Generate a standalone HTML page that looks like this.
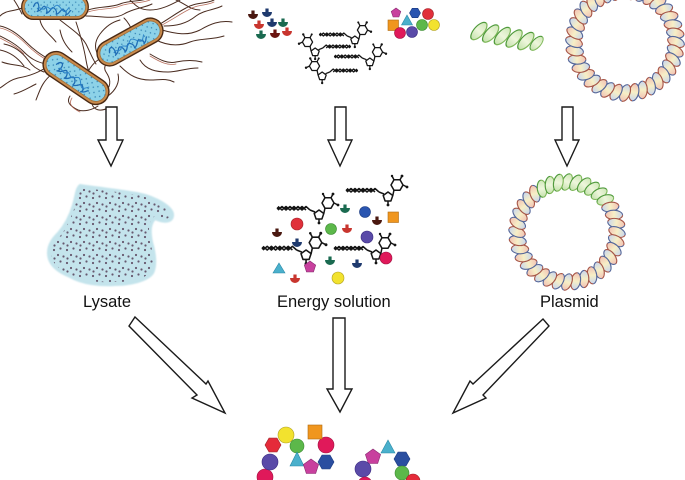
<!DOCTYPE html>
<html><head><meta charset="utf-8"><style>
html,body{margin:0;padding:0;background:#fff;}
svg{display:block;}
text{font-family:"Liberation Sans",Arial,sans-serif;}
</style></head><body>
<svg width="685" height="480" viewBox="0 0 685 480" xmlns="http://www.w3.org/2000/svg" xmlns:xlink="http://www.w3.org/1999/xlink">
<defs>
  <linearGradient id="gv1" x1="0" x2="0" y1="0" y2="1">
    <stop offset="0" stop-color="#f2c2b4"/>
    <stop offset="0.5" stop-color="#f7efc6"/>
    <stop offset="1" stop-color="#c8d6ee"/>
  </linearGradient>
  <linearGradient id="gv2" x1="0" x2="0" y1="0" y2="1">
    <stop offset="0" stop-color="#c8d6ee"/>
    <stop offset="0.5" stop-color="#f7efc6"/>
    <stop offset="1" stop-color="#f2c2b4"/>
  </linearGradient>
  <linearGradient id="gvg" x1="0" x2="0" y1="0" y2="1">
    <stop offset="0" stop-color="#cfe8b8"/>
    <stop offset="0.5" stop-color="#eef6dc"/>
    <stop offset="1" stop-color="#c4e2ac"/>
  </linearGradient>
  <g id="lA">
    <ellipse rx="4.7" ry="8.6" fill="url(#gv1)"/>
    <path d="M0 -8.6 A4.7 8.6 0 0 0 0 8.6" fill="none" stroke="#a65648" stroke-width="1.1"/>
    <path d="M0 -8.6 A4.7 8.6 0 0 1 0 8.6" fill="none" stroke="#55679a" stroke-width="1.1"/>
  </g>
  <g id="lB">
    <ellipse rx="4.7" ry="8.6" fill="url(#gv2)"/>
    <path d="M0 -8.6 A4.7 8.6 0 0 0 0 8.6" fill="none" stroke="#55679a" stroke-width="1.1"/>
    <path d="M0 -8.6 A4.7 8.6 0 0 1 0 8.6" fill="none" stroke="#a65648" stroke-width="1.1"/>
  </g>
  <g id="lG">
    <ellipse rx="4.7" ry="8.6" fill="url(#gvg)"/>
    <path d="M0 -8.6 A4.7 8.6 0 0 0 0 8.6" fill="none" stroke="#4f9a3c" stroke-width="1.1"/>
    <path d="M0 -8.6 A4.7 8.6 0 0 1 0 8.6" fill="none" stroke="#7fb85a" stroke-width="1.1"/>
  </g>
  <g id="mA"><use href="#lA" xlink:href="#lA" transform="translate(0,-50) rotate(22)"/></g>
  <g id="mB"><use href="#lB" xlink:href="#lB" transform="translate(0,-50) rotate(22)"/></g>
  <g id="mG"><use href="#lG" xlink:href="#lG" transform="translate(0,-50) rotate(22)"/></g>
  <g id="mol">
    <g stroke="#151515" stroke-width="1.5" fill="none" stroke-linejoin="round">
      <polyline points="0,0 4,-3.5 8,0 12,-3.5 16,0 20,-3.5 24,0 28,-3.5 32,0"/>
      <polyline points="0,-3.5 4,0 8,-3.5 12,0 16,-3.5 20,0 24,-3.5 28,0"/>
      <path d="M32 0 L37 2"/>
      <polygon points="41,0 45.8,3.5 43.9,9 38.1,9 36.2,3.5"/>
      <path d="M45.8 3.5 L47 -2"/>
      <polygon points="56,-7 53,-12.2 47,-12.2 44,-7 47,-1.8 53,-1.8"/>
      <path d="M53 -12.2 L55 -16 M56 -7 L60 -5 M41 9 L41 13 M47 -12.2 L45 -16"/>
    </g>
    <g fill="#151515">
      <circle cx="55" cy="-16" r="1.4"/><circle cx="60" cy="-5" r="1.4"/><circle cx="41" cy="13" r="1.4"/><circle cx="45" cy="-16" r="1.2"/>
      <circle cx="0" cy="-1.7" r="1.3"/><circle cx="8" cy="-1.7" r="1.3"/><circle cx="16" cy="-1.7" r="1.3"/><circle cx="24" cy="-1.7" r="1.3"/>
    </g>
  </g>
  <g id="pac"><path d="M-5 -1 A5 5 0 0 0 5 -1 L1.6 -1 L1.6 -4.5 L-1.6 -4.5 L-1.6 -1 Z"/></g>
  <pattern id="dots" width="13" height="13" patternUnits="userSpaceOnUse">
    <g fill="#66586e">
      <circle cx="2" cy="3" r="1.1"/><circle cx="8.5" cy="1.5" r="1.1"/><circle cx="6" cy="8" r="1.1"/>
      <circle cx="11.5" cy="9.5" r="1.1"/><circle cx="2.5" cy="11.5" r="1.1"/>
    </g>
  </pattern>
  <pattern id="bdots" width="7" height="7" patternUnits="userSpaceOnUse">
    <circle cx="2" cy="2" r="0.7" fill="#2f7fb0"/><circle cx="5.5" cy="5" r="0.7" fill="#2f7fb0"/>
  </pattern>
  <g id="bact">
    <rect x="-37" y="-13" width="74" height="26" rx="13" fill="#c98a4c" stroke="#4a2a14" stroke-width="1.4"/>
    <rect x="-34" y="-10" width="68" height="20" rx="10" fill="#8dd2e8" stroke="#a0703a" stroke-width="0.8"/>
    <rect x="-34" y="-10" width="68" height="20" rx="10" fill="url(#bdots)"/>
    <path d="M-24 0 c2 -6 6 -6 6 0 s-4 5 0 4 s5 -8 8 -3 s-2 7 2 5 s4 -8 8 -4 s-1 7 3 5 s4 -7 8 -3 s-2 6 2 4 s3 -5 5 -4" fill="none" stroke="#1f6db5" stroke-width="1.3"/>
    <path d="M-20 2 c3 -4 6 3 9 -1 s5 4 9 0 s5 -4 9 1 s5 3 9 -2" fill="none" stroke="#2a82c8" stroke-width="1"/>
  </g>
  <filter id="soft"><feGaussianBlur stdDeviation="0.8"/></filter>
</defs>

<rect width="685" height="480" fill="#fff"/>

<!-- Flagella -->
<g fill="none" stroke="#4a2c20" stroke-width="1" stroke-linecap="round">
  <path d="M22 8 C12 12 6 10 0 16"/>
  <path d="M0 26 C10 28 18 34 26 42 C34 50 40 54 50 60"/>
  <path d="M0 36 C8 40 16 44 24 52 C30 58 36 62 46 64"/>
  <path d="M2 62 C12 66 22 64 30 70"/>
  <path d="M48 66 C40 72 30 76 18 78 C10 80 6 84 0 88"/>
  <path d="M52 74 C42 82 40 90 36 100"/>
  <path d="M36 84 C28 88 22 92 14 94"/>
  <path d="M70 96 C66 102 70 106 78 110 C84 112 92 110 98 106"/>
  <path d="M92 104 C94 110 100 112 108 108"/>
  <path d="M106 92 C112 84 110 78 106 72 C102 66 108 62 112 58"/>
  <path d="M108 96 C116 90 120 82 118 74"/>
  <path d="M88 10 C100 6 110 8 120 4 C130 0 140 2 150 -2"/>
  <path d="M86 16 C100 16 114 20 124 14 C134 8 144 8 152 4"/>
  <path d="M60 20 C70 28 80 34 86 44 C90 52 92 58 96 64"/>
  <path d="M40 20 C42 30 50 34 56 42"/>
  <path d="M76 22 C80 34 84 48 86 60 C87 66 88 70 90 74"/>
  <path d="M100 58 C94 50 94 42 100 34 C106 26 112 22 120 20"/>
  <path d="M160 24 C170 18 178 12 186 8 C196 2 206 4 214 0"/>
  <path d="M162 30 C176 34 188 36 200 30 C210 24 220 20 232 22"/>
  <path d="M164 26 C176 26 186 24 196 16 C204 10 214 10 222 6"/>
  <path d="M150 54 C160 60 168 64 176 62 C186 60 194 60 202 62"/>
  <path d="M140 60 C146 70 156 72 168 72 C178 72 186 68 198 68"/>
  <path d="M120 66 C130 76 138 80 150 80 C160 80 166 78 174 82"/>
  <path d="M98 60 C92 64 88 70 84 80"/>
  <path d="M130 0 C136 6 140 10 150 10 C162 10 172 4 180 0"/>
  <path d="M176 0 C186 4 190 10 200 10"/>
  <path d="M0 50 C10 52 18 58 24 66"/>
  <path d="M14 0 C18 6 20 10 22 14"/>
  <path d="M124 18 C130 24 134 32 132 40"/>
  <path d="M4 44 C14 46 22 52 28 60 C32 66 38 70 44 72"/>
  <path d="M60 30 C62 40 66 46 72 52"/>
  <path d="M156 40 C168 46 180 46 190 42 C200 38 212 40 224 36"/>
</g>
<g fill="none" stroke="#a8503a" stroke-width="0.8" stroke-linecap="round" opacity="0.8">
  <path d="M0 28 C10 30 18 36 26 44 C34 52 40 56 50 62"/>
  <path d="M88 12 C100 8 110 10 120 6 C130 2 140 4 150 0"/>
  <path d="M160 26 C172 20 180 14 188 10 C198 4 206 6 214 2"/>
  <path d="M72 98 C68 104 72 108 80 112"/>
  <path d="M150 56 C160 62 168 66 176 64"/>
  <path d="M0 38 C8 42 16 46 24 54"/>
</g>

<!-- Bacteria -->
<use href="#bact" xlink:href="#bact" transform="translate(55,7) scale(0.9,0.95)"/>
<use href="#bact" xlink:href="#bact" transform="translate(76,78) rotate(34)"/>
<use href="#bact" xlink:href="#bact" transform="translate(130,42) rotate(-29) scale(0.97,0.97)"/>

<!-- Top middle: nucleotides -->
<use href="#pac" xlink:href="#pac" x="253" y="15" fill="#4a1810"/>
<use href="#pac" xlink:href="#pac" x="267" y="13" fill="#1f3a6e"/>
<use href="#pac" xlink:href="#pac" x="259" y="25" fill="#c8352e"/>
<use href="#pac" xlink:href="#pac" x="272" y="23" fill="#1f3a6e"/>
<use href="#pac" xlink:href="#pac" x="283" y="23" fill="#1a6a50"/>
<use href="#pac" xlink:href="#pac" x="287" y="32" fill="#c8352e"/>
<use href="#pac" xlink:href="#pac" x="261" y="35" fill="#1a6a50"/>
<use href="#pac" xlink:href="#pac" x="275" y="34" fill="#6a1410"/>

<!-- Top middle: molecules -->
<use href="#mol" xlink:href="#mol" transform="translate(320,36) scale(0.85)"/>
<use href="#mol" xlink:href="#mol" transform="translate(350,48) scale(-0.85,0.85)"/>
<use href="#mol" xlink:href="#mol" transform="translate(335,58) scale(0.85)"/>
<use href="#mol" xlink:href="#mol" transform="translate(357,72) scale(-0.85,0.85)"/>

<!-- Top middle: amino acid shapes -->
<g stroke-width="0.6">
  <polygon points="396,8 400.8,11.5 398.9,17 393.1,17 391.2,11.5" fill="#c8409e" stroke="#8a2a70"/>
  <polygon points="420.5,13 417.8,17.7 412.2,17.7 409.5,13 412.2,8.3 417.8,8.3" fill="#2a55b0" stroke="#1a3a80"/>
  <circle cx="428" cy="14" r="5.5" fill="#e0303a" stroke="#a02028"/>
  <rect x="388" y="20" width="10.5" height="10.5" fill="#f0961e" stroke="#b06a10"/>
  <polygon points="407,15 412.5,25 401.5,25" fill="#4ab0cc" stroke="#2a8aa8"/>
  <circle cx="422" cy="25" r="5.5" fill="#5cb84a" stroke="#3a8a30"/>
  <circle cx="434" cy="25" r="5.5" fill="#f2e22e" stroke="#b0a020"/>
  <circle cx="400" cy="33" r="5.5" fill="#e0195a" stroke="#a01040"/>
  <circle cx="412" cy="32" r="5.5" fill="#5a4aa8" stroke="#3a2a80"/>
</g>

<!-- Top right: green helix -->
<g transform="translate(474,30) rotate(12)">
  <use href="#lG" xlink:href="#lG" transform="translate(5,0) rotate(30) scale(1.05,1.25)"/>
  <use href="#lG" xlink:href="#lG" transform="translate(17,0) rotate(30) scale(1.05,1.25)"/>
  <use href="#lG" xlink:href="#lG" transform="translate(29,0) rotate(30) scale(1.05,1.25)"/>
  <use href="#lG" xlink:href="#lG" transform="translate(41,0) rotate(30) scale(1.05,1.25)"/>
  <use href="#lG" xlink:href="#lG" transform="translate(53,0) rotate(30) scale(1.05,1.25)"/>
  <use href="#lG" xlink:href="#lG" transform="translate(64,0) rotate(30) scale(0.9,1.0)"/>
</g>

<!-- Top right plasmid -->
<g transform="translate(625,42) scale(1.02)">
  <use href="#mA" xlink:href="#mA" transform="rotate(0)"/>
  <use href="#mB" xlink:href="#mB" transform="rotate(10)"/>
  <use href="#mA" xlink:href="#mA" transform="rotate(20)"/>
  <use href="#mB" xlink:href="#mB" transform="rotate(30)"/>
  <use href="#mA" xlink:href="#mA" transform="rotate(40)"/>
  <use href="#mB" xlink:href="#mB" transform="rotate(50)"/>
  <use href="#mA" xlink:href="#mA" transform="rotate(60)"/>
  <use href="#mB" xlink:href="#mB" transform="rotate(70)"/>
  <use href="#mA" xlink:href="#mA" transform="rotate(80)"/>
  <use href="#mB" xlink:href="#mB" transform="rotate(90)"/>
  <use href="#mA" xlink:href="#mA" transform="rotate(100)"/>
  <use href="#mB" xlink:href="#mB" transform="rotate(110)"/>
  <use href="#mA" xlink:href="#mA" transform="rotate(120)"/>
  <use href="#mB" xlink:href="#mB" transform="rotate(130)"/>
  <use href="#mA" xlink:href="#mA" transform="rotate(140)"/>
  <use href="#mB" xlink:href="#mB" transform="rotate(150)"/>
  <use href="#mA" xlink:href="#mA" transform="rotate(160)"/>
  <use href="#mB" xlink:href="#mB" transform="rotate(170)"/>
  <use href="#mA" xlink:href="#mA" transform="rotate(180)"/>
  <use href="#mB" xlink:href="#mB" transform="rotate(190)"/>
  <use href="#mA" xlink:href="#mA" transform="rotate(200)"/>
  <use href="#mB" xlink:href="#mB" transform="rotate(210)"/>
  <use href="#mA" xlink:href="#mA" transform="rotate(220)"/>
  <use href="#mB" xlink:href="#mB" transform="rotate(230)"/>
  <use href="#mA" xlink:href="#mA" transform="rotate(240)"/>
  <use href="#mB" xlink:href="#mB" transform="rotate(250)"/>
  <use href="#mA" xlink:href="#mA" transform="rotate(260)"/>
  <use href="#mB" xlink:href="#mB" transform="rotate(270)"/>
  <use href="#mA" xlink:href="#mA" transform="rotate(280)"/>
  <use href="#mB" xlink:href="#mB" transform="rotate(290)"/>
  <use href="#mA" xlink:href="#mA" transform="rotate(300)"/>
  <use href="#mB" xlink:href="#mB" transform="rotate(310)"/>
  <use href="#mA" xlink:href="#mA" transform="rotate(320)"/>
  <use href="#mB" xlink:href="#mB" transform="rotate(330)"/>
  <use href="#mA" xlink:href="#mA" transform="rotate(340)"/>
  <use href="#mB" xlink:href="#mB" transform="rotate(350)"/>
</g>

<!-- Down arrows (top row) -->
<g fill="#fff" stroke="#1a1a1a" stroke-width="1.4" stroke-linejoin="miter">
  <polygon points="106,107 117,107 117,140 123,140 111,166 98,140 106,140"/>
  <polygon points="335,107 346,107 346,140 352,140 340,166 328,140 335,140"/>
  <polygon points="562,107 573,107 573,140 579,140 567,166 555,140 562,140"/>
</g>

<!-- Lysate -->
<g>
  <path d="M80,185 C100,188 120,190 130,192 C140,193 150,196 158,200 C166,204 174,210 173,216 C172,223 163,223 155,219 C150,224 150,232 152,242 C155,252 157,265 153,273 C148,281 130,285 115,285 C100,286 82,284 70,277 C58,272 48,265 48,253 C48,244 53,238 58,233 C65,225 70,215 73,205 C76,195 76,188 80,185 Z" fill="#c4e4ec" stroke="#c4e4ec" stroke-width="2" filter="url(#soft)"/>
  <path d="M81,188 C100,190 120,192 130,194 C140,195 150,198 157,202 C165,206 171,211 170,215 C169,220 163,220 155,216 C148,222 148,232 150,242 C153,252 155,265 151,271 C146,279 130,282 115,282 C100,283 83,281 71,275 C60,270 51,263 51,253 C51,245 56,240 61,235 C67,227 72,216 75,206 C78,197 78,191 81,188 Z" fill="url(#dots)"/>
</g>

<!-- Energy solution -->
<use href="#mol" xlink:href="#mol" transform="translate(347,192)"/>
<use href="#mol" xlink:href="#mol" transform="translate(278,210)"/>
<use href="#mol" xlink:href="#mol" transform="translate(263,250) scale(1.05)"/>
<use href="#mol" xlink:href="#mol" transform="translate(335,250)"/>
<use href="#pac" xlink:href="#pac" x="345" y="209" fill="#1a6a50"/>
<use href="#pac" xlink:href="#pac" x="377" y="221" fill="#4a1810"/>
<use href="#pac" xlink:href="#pac" x="347" y="229" fill="#c8352e"/>
<use href="#pac" xlink:href="#pac" x="277" y="233" fill="#4a1810"/>
<use href="#pac" xlink:href="#pac" x="297" y="243" fill="#1f3a6e"/>
<use href="#pac" xlink:href="#pac" x="330" y="261" fill="#1a6a50"/>
<use href="#pac" xlink:href="#pac" x="357" y="264" fill="#1f3a6e"/>
<use href="#pac" xlink:href="#pac" x="295" y="279" fill="#c8352e"/>
<g stroke-width="0.6">
  <circle cx="365" cy="212" r="5.5" fill="#2a55b0" stroke="#1a3a80"/>
  <circle cx="297" cy="224" r="6" fill="#e0303a" stroke="#a02028"/>
  <circle cx="331" cy="229" r="5.5" fill="#5cb84a" stroke="#3a8a30"/>
  <circle cx="367" cy="237" r="6" fill="#5a4aa8" stroke="#3a2a80"/>
  <circle cx="386" cy="258" r="6" fill="#e0195a" stroke="#a01040"/>
  <circle cx="338" cy="278" r="6" fill="#f2e22e" stroke="#b0a020"/>
  <rect x="388" y="212" width="10.5" height="10.5" fill="#f0961e" stroke="#b06a10"/>
  <polygon points="310,261 315.7,265.1 313.5,271.9 306.5,271.9 304.3,265.1" fill="#c8409e" stroke="#8a2a70"/>
  <polygon points="279,263 285,273 273,273" fill="#4ab0cc" stroke="#2a8aa8"/>
</g>

<!-- Middle plasmid -->
<g transform="translate(567,232)">
  <use href="#mG" xlink:href="#mG" transform="rotate(0)"/>
  <use href="#mG" xlink:href="#mG" transform="rotate(10)"/>
  <use href="#mG" xlink:href="#mG" transform="rotate(20)"/>
  <use href="#mG" xlink:href="#mG" transform="rotate(30)"/>
  <use href="#mG" xlink:href="#mG" transform="rotate(40)"/>
  <use href="#mG" xlink:href="#mG" transform="rotate(50)"/>
  <use href="#mA" xlink:href="#mA" transform="rotate(60)"/>
  <use href="#mB" xlink:href="#mB" transform="rotate(70)"/>
  <use href="#mA" xlink:href="#mA" transform="rotate(80)"/>
  <use href="#mB" xlink:href="#mB" transform="rotate(90)"/>
  <use href="#mA" xlink:href="#mA" transform="rotate(100)"/>
  <use href="#mB" xlink:href="#mB" transform="rotate(110)"/>
  <use href="#mA" xlink:href="#mA" transform="rotate(120)"/>
  <use href="#mB" xlink:href="#mB" transform="rotate(130)"/>
  <use href="#mA" xlink:href="#mA" transform="rotate(140)"/>
  <use href="#mB" xlink:href="#mB" transform="rotate(150)"/>
  <use href="#mA" xlink:href="#mA" transform="rotate(160)"/>
  <use href="#mB" xlink:href="#mB" transform="rotate(170)"/>
  <use href="#mA" xlink:href="#mA" transform="rotate(180)"/>
  <use href="#mB" xlink:href="#mB" transform="rotate(190)"/>
  <use href="#mA" xlink:href="#mA" transform="rotate(200)"/>
  <use href="#mB" xlink:href="#mB" transform="rotate(210)"/>
  <use href="#mA" xlink:href="#mA" transform="rotate(220)"/>
  <use href="#mB" xlink:href="#mB" transform="rotate(230)"/>
  <use href="#mA" xlink:href="#mA" transform="rotate(240)"/>
  <use href="#mB" xlink:href="#mB" transform="rotate(250)"/>
  <use href="#mA" xlink:href="#mA" transform="rotate(260)"/>
  <use href="#mB" xlink:href="#mB" transform="rotate(270)"/>
  <use href="#mA" xlink:href="#mA" transform="rotate(280)"/>
  <use href="#mB" xlink:href="#mB" transform="rotate(290)"/>
  <use href="#mA" xlink:href="#mA" transform="rotate(300)"/>
  <use href="#mB" xlink:href="#mB" transform="rotate(310)"/>
  <use href="#mA" xlink:href="#mA" transform="rotate(320)"/>
  <use href="#mG" xlink:href="#mG" transform="rotate(330)"/>
  <use href="#mG" xlink:href="#mG" transform="rotate(340)"/>
  <use href="#mG" xlink:href="#mG" transform="rotate(350)"/>
</g>

<!-- Labels -->
<g font-size="16.5" fill="#111">
  <text x="83" y="307">Lysate</text>
  <text x="277" y="307">Energy solution</text>
  <text x="540" y="307">Plasmid</text>
</g>

<!-- Bottom arrows -->
<g fill="#fff" stroke="#1a1a1a" stroke-width="1.4" stroke-linejoin="miter">
  <polygon points="135,317 206,384 208,381 225,413 192,398 197,395 129,326"/>
  <polygon points="333,318 345,318 345,389 352,389 340,412 327,389 333,389"/>
  <polygon points="543,319 473,384 470,381 453,413 486,398 483,395 549,326"/>
</g>

<!-- Bottom protein chains -->
<g stroke-width="0.6">
  <circle cx="265" cy="477" r="8" fill="#e0195a" stroke="#a01040"/>
  <circle cx="270" cy="462" r="8" fill="#5a4aa8" stroke="#3a2a80"/>
  <polygon points="281,445 277,451.9 269,451.9 265,445 269,438.1 277,438.1" fill="#e52b3a" stroke="#a02028"/>
  <circle cx="286" cy="435" r="8" fill="#f2e22e" stroke="#b0a020"/>
  <circle cx="297" cy="446" r="7" fill="#5cb84a" stroke="#3a8a30"/>
  <polygon points="297,452 304,466 290,466" fill="#4ab0cc" stroke="#2a8aa8"/>
  <polygon points="311,459 318.6,464.5 315.7,473.5 306.3,473.5 303.4,464.5" fill="#c8409e" stroke="#8a2a70"/>
  <polygon points="334,462 330,468.9 322,468.9 318,462 322,455.1 330,455.1" fill="#2a4ea0" stroke="#1a3a80"/>
  <circle cx="326" cy="445" r="8" fill="#e0195a" stroke="#a01040"/>
  <rect x="308" y="425" width="14" height="14" fill="#f0961e" stroke="#b06a10"/>

  <polygon points="388,440 395,453 381,453" fill="#4ab0cc" stroke="#2a8aa8"/>
  <polygon points="373,449 380.6,454.5 377.7,463.5 368.3,463.5 365.4,454.5" fill="#c8409e" stroke="#8a2a70"/>
  <polygon points="410,459 406,465.9 398,465.9 394,459 398,452.1 406,452.1" fill="#2a4ea0" stroke="#1a3a80"/>
  <circle cx="363" cy="469" r="8" fill="#5a4aa8" stroke="#3a2a80"/>
  <circle cx="402" cy="473" r="7" fill="#5cb84a" stroke="#3a8a30"/>
  <circle cx="413" cy="481" r="7" fill="#e52b3a" stroke="#a02028"/>
  <circle cx="365" cy="484" r="7" fill="#e0195a" stroke="#a01040"/>
</g>
</svg>
</body></html>
